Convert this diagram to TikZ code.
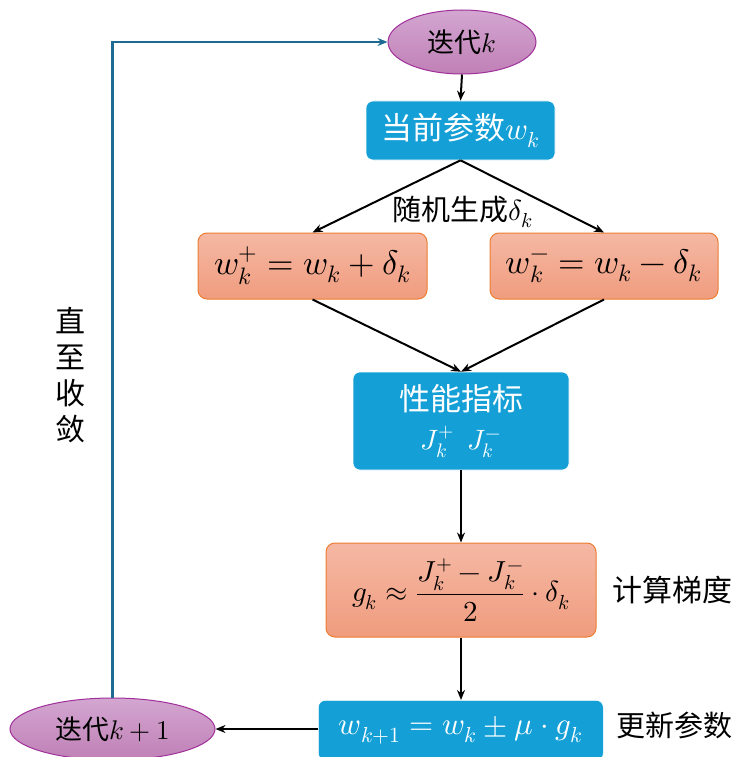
\documentclass[tikz,border=0pt]{standalone}
\usepackage{amsmath}
\usepackage{fontspec}
\usepackage{unicode-math}
\setmainfont{Noto Sans CJK SC}
\setmathfont{Latin Modern Math}
\usetikzlibrary{arrows.meta,shapes.geometric}
\definecolor{bluebox}{HTML}{149FD6}
\definecolor{salmontop}{HTML}{F5B8A4}
\definecolor{salmonbot}{HTML}{F09C7E}
\definecolor{salmonedge}{HTML}{ED7D31}
\definecolor{purptop}{HTML}{D3A6D1}
\definecolor{purpbot}{HTML}{C080B6}
\definecolor{purpedge}{HTML}{A0309A}
\definecolor{loopcol}{HTML}{1F6A92}
\newcommand{\fs}[1]{\fontsize{#1}{#1}\selectfont}
\tikzset{
  bluestyle/.style={draw=white, line width=0.6pt, fill=bluebox, rounded corners=7pt, text=white, font=\fs{31}, inner sep=0pt, align=center},
  salmonstyle/.style={draw=salmonedge, line width=1pt, top color=salmontop, bottom color=salmonbot, rounded corners=9pt, font=\fs{34}, inner sep=0pt},
  ellstyle/.style={ellipse, draw=purpedge, line width=1pt, top color=purptop, bottom color=purpbot, font=\fs{27}, inner sep=0pt},
  arr/.style={-{Stealth[length=10pt,width=8pt]}, line width=2pt, black},
  lbl/.style={font=\fs{29}, inner sep=0pt}
}
\begin{document}
\begin{tikzpicture}[x=1pt,y=-1pt]
\useasboundingbox (0,0) rectangle (734,757);
\clip (0,0) rectangle (734,757);
\fill[white] (0,0) rectangle (734,757);
% nodes
\node[ellstyle, minimum width=148pt, minimum height=64pt] (it) at (462,42) {迭代$k$};
\node[bluestyle, minimum width=189pt, minimum height=59pt] (cur) at (460.5,130.5) {当前参数$w_k$};
\node[salmonstyle, minimum width=229pt, minimum height=66pt] (wp) at (312.5,266) {$w_k^+ = w_k + \delta_k$};
\node[salmonstyle, minimum width=228pt, minimum height=66pt] (wm) at (604,266) {$w_k^- = w_k - \delta_k$};
\node[bluestyle, minimum width=216pt, minimum height=98pt] (perf) at (461,421) {\raisebox{2pt}{性能指标}\\[6pt]{\fs{28}$J_k^+\ \ J_k^-$}};
\node[salmonstyle, minimum width=270pt, minimum height=94pt, font=\fs{29}] (grad) at (461,590) {$g_k \approx \dfrac{J_k^+ - J_k^-}{2}\cdot \delta_k$};
\node[bluestyle, minimum width=285pt, minimum height=60pt, anchor=north west, font=\fs{31}] (upd) at (318,700) {\raisebox{-12pt}{$w_{k+1} = w_k \pm \mu \cdot g_k$}};
\node[ellstyle, minimum width=205pt, minimum height=62pt] (it1) at (112.5,729) {迭代$k+1$};
% labels
\node[lbl] (rand) at (463,212) {随机生成$\delta_k$};
\node[lbl, anchor=east, font=\fs{30}] (calc) at (733,590) {计算梯度};
\node[lbl, anchor=east] (upl) at (733,725) {更新参数};
\node[font=\fontsize{30}{36}\selectfont, align=center, inner sep=0pt] (conv) at (70,375) {直\\至\\收\\敛};
% connectors
\draw[arr] (it.south) -- (cur.north);
\draw[arr] (cur.south) -- (wp.north);
\draw[arr] (cur.south) -- (wm.north);
\draw[arr] (wp.south) -- (perf.north);
\draw[arr] (wm.south) -- (perf.north);
\draw[arr] (perf.south) -- (grad.north);
\draw[arr] (grad.south) -- (upd.north -| grad.south);
\draw[arr] (upd.west |- it1.east) -- (it1.east);
\coordinate (corner) at (it1.north |- it.west);
\draw[-{Stealth[length=10pt,width=8pt]}, line width=2.2pt, loopcol] (it1.north) -- (corner) -- (it.west);
\end{tikzpicture}
\end{document}
